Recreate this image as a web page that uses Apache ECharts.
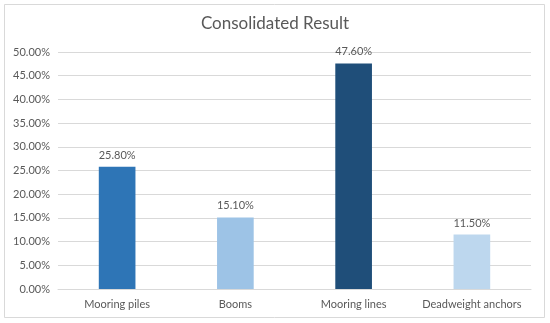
<!DOCTYPE html>
<html>
<head>
<meta charset="utf-8">
<script src="https://cdn.jsdelivr.net/npm/echarts@6/dist/echarts.min.js"></script>
<style>html,body{margin:0;padding:0;background:#fff;}#c{width:550px;height:323px;}</style>
</head>
<body>
<div id="c"></div>
<script>
var categories = ['Mooring piles', 'Booms', 'Mooring lines', 'Deadweight anchors'];
var values = [25.8, 15.1, 47.6, 11.5];
var barColors = ['#2E75B6', '#9DC3E6', '#1F4E79', '#BDD7EE'];
var yTicks = {min: 0, max: 50, interval: 5};

var chart = echarts.init(document.getElementById('c'), null, {renderer: 'canvas'});
var font = 'Lato, "Open Sans", sans-serif';
chart.setOption({
  animation: false,
  backgroundColor: '#fff',
  graphic: [{
    type: 'rect', shape: {x: 4.5, y: 4.5, width: 540, height: 313},
    style: {fill: 'none', stroke: '#D9D9D9', lineWidth: 1}, silent: true
  }],
  title: {
    text: 'Consolidated Result', left: 'center', top: 10,
    textStyle: {fontFamily: font, fontSize: 17, fontWeight: 'normal', color: '#595959'}
  },
  grid: {left: 58, right: 19, top: 52, bottom: 34, containLabel: false},
  xAxis: {
    type: 'category', data: categories,
    axisLine: {lineStyle: {color: '#D9D9D9'}},
    axisTick: {show: false},
    axisLabel: {interval: 0, fontFamily: font, fontSize: 11, color: '#595959', margin: 10}
  },
  yAxis: {
    type: 'value', min: yTicks.min, max: yTicks.max, interval: yTicks.interval,
    axisLine: {show: false}, axisTick: {show: false},
    splitLine: {lineStyle: {color: '#D9D9D9'}},
    axisLabel: {fontFamily: font, fontSize: 11, color: '#595959', margin: 8,
      formatter: function (v) { return v.toFixed(2) + '%'; }}
  },
  series: [{
    type: 'bar', barWidth: '31%',
    data: values.map(function (v, i) { return {value: v, itemStyle: {color: barColors[i]}}; }),
    label: {show: true, position: 'top', distance: 6, fontFamily: font, fontSize: 11, color: '#595959',
      formatter: function (p) { return p.value.toFixed(2) + '%'; }}
  }]
});
</script>
</body>
</html>
